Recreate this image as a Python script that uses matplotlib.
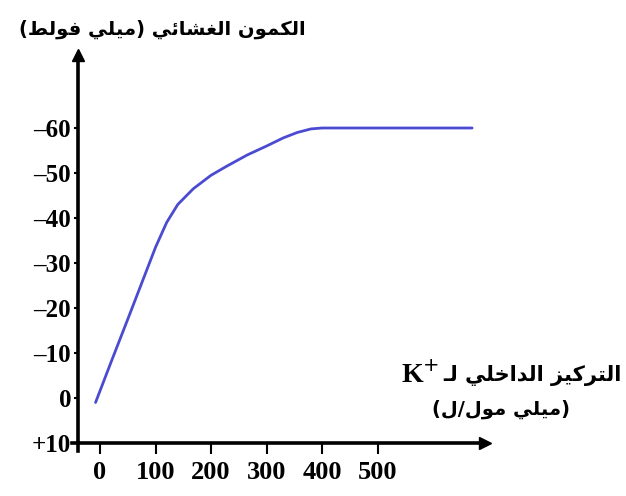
import matplotlib
matplotlib.use("Agg")
import matplotlib.pyplot as plt

# data: internal K+ concentration (mmol/L) vs membrane potential (mV)
conc = [-8, 20, 50, 75, 100, 120, 140, 168, 200, 228, 265, 300, 330, 355, 380, 400, 670]
potential = [1, -8, -17.5, -25.5, -33.5, -39, -43, -46.5, -49.5, -51.5, -54, -56,
             -57.8, -59, -59.8, -60, -60]

x_ticks = [0, 100, 200, 300, 400, 500]
y_ticks = [-60, -50, -40, -30, -20, -10, 0, 10]
y_tick_labels = ["\u201360", "\u201350", "\u201340", "\u201330", "\u201320", "\u201310", "0", "+10"]

y_title = "الكمون الغشائي (ميلي فولط)"
x_title = "التركيز الداخلي لـ"
x_unit = "(ميلي مول/ل)"


# minimal Arabic shaping (matplotlib has no text shaping of its own)
FORMS = {  # isolated, final, initial, medial
    "ا": ("\ufe8d", "\ufe8e", None, None),
    "ئ": ("\ufe89", "\ufe8a", "\ufe8b", "\ufe8c"),
    "ت": ("\ufe95", "\ufe96", "\ufe97", "\ufe98"),
    "خ": ("\ufea5", "\ufea6", "\ufea7", "\ufea8"),
    "د": ("\ufea9", "\ufeaa", None, None),
    "ر": ("\ufead", "\ufeae", None, None),
    "ز": ("\ufeaf", "\ufeb0", None, None),
    "ش": ("\ufeb5", "\ufeb6", "\ufeb7", "\ufeb8"),
    "ط": ("\ufec1", "\ufec2", "\ufec3", "\ufec4"),
    "غ": ("\ufecd", "\ufece", "\ufecf", "\ufed0"),
    "ف": ("\ufed1", "\ufed2", "\ufed3", "\ufed4"),
    "ك": ("\ufed9", "\ufeda", "\ufedb", "\ufedc"),
    "ل": ("\ufedd", "\ufede", "\ufedf", "\ufee0"),
    "م": ("\ufee1", "\ufee2", "\ufee3", "\ufee4"),
    "ن": ("\ufee5", "\ufee6", "\ufee7", "\ufee8"),
    "و": ("\ufeed", "\ufeee", None, None),
    "ي": ("\ufef1", "\ufef2", "\ufef3", "\ufef4"),
    "ـ": ("ـ", "ـ", "ـ", "ـ"),
}


def joins_left(ch):
    return ch in FORMS and FORMS[ch][2] is not None


def shape(text):
    out = []
    for i, ch in enumerate(text):
        if ch not in FORMS:
            out.append(ch)
            continue
        prev = text[i - 1] if i > 0 else ""
        nxt = text[i + 1] if i + 1 < len(text) else ""
        a = joins_left(prev)
        b = joins_left(ch) and nxt in FORMS
        iso, fin, ini, med = FORMS[ch]
        if a and b:
            out.append(med)
        elif a:
            out.append(fin)
        elif b:
            out.append(ini)
        else:
            out.append(iso)
    mirror = {"(": ")", ")": "("}
    return "".join(mirror.get(c, c) for c in reversed(out))


fig = plt.figure(figsize=(6.26, 4.96), dpi=100)
ax = fig.add_axes([0.1246, 0.1069, 0.650, 0.782])

ax.plot(conc, potential, color="#4b4bd2", lw=2.0, solid_capstyle="round")

ax.set_xlim(-39.6, 693)
ax.set_ylim(10, -76.2)

for s in ["top", "right"]:
    ax.spines[s].set_visible(False)
for s in ["left", "bottom"]:
    ax.spines[s].set_linewidth(2.6)

# arrow heads and the small overhang where the axes cross
ax.plot([1], [0], marker=">", ms=9, color="black", transform=ax.transAxes, clip_on=False)
ax.plot([0], [1], marker="^", ms=9, color="black", transform=ax.transAxes, clip_on=False)
ax.plot([0, 0], [0, -0.02], color="black", lw=2.6, transform=ax.transAxes, clip_on=False)
ax.plot([-0.015, 0], [0, 0], color="black", lw=2.6, transform=ax.transAxes, clip_on=False)

ax.set_xticks(x_ticks)
ax.set_yticks(y_ticks)
ax.set_yticklabels(y_tick_labels)
ax.tick_params(axis="x", direction="out", length=8, width=1.5, pad=5)
ax.tick_params(axis="y", direction="out", length=3, width=1.5, pad=2)
for lab in ax.get_xticklabels():
    lab.set_fontfamily("Liberation Serif")
    lab.set_fontweight("bold")
    lab.set_fontsize(19)
for lab in ax.get_yticklabels():
    lab.set_fontfamily("Liberation Serif")
    lab.set_fontweight("bold")
    lab.set_fontsize(18)

fig.text(0.26, 0.94, shape(y_title), family="DejaVu Sans", fontweight="bold",
         fontsize=14, ha="center", va="center")

t1 = fig.text(0.993, 0.243, shape(x_title), family="DejaVu Sans", fontweight="bold",
              fontsize=15, ha="right", va="center")
ax.annotate("K$^{+}$", xy=(0, 0.5), xycoords=t1, xytext=(-3, 0), textcoords="offset points",
            ha="right", va="center", family="Liberation Serif", fontweight="bold",
            fontsize=20, annotation_clip=False)
fig.text(0.80, 0.175, shape(x_unit), family="DejaVu Sans", fontweight="bold",
         fontsize=14, ha="center", va="center")

fig.savefig("out.png", dpi=100)
